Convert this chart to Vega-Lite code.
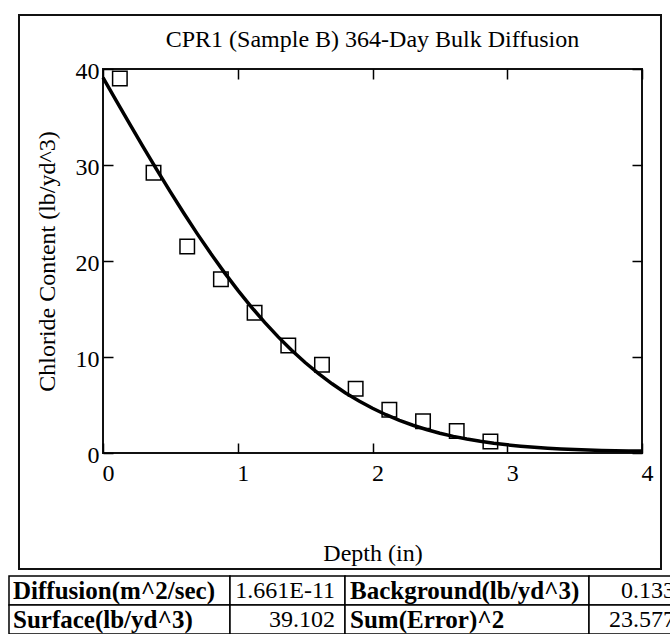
{
  "$schema": "https://vega.github.io/schema/vega-lite/v6.json",
  "background": "white",
  "padding": {"left": 8, "top": 13, "right": 0, "bottom": 0},
  "config": {
    "font": "Liberation Serif",
    "view": {"stroke": "#111", "strokeWidth": 2},
    "title": {"font": "Liberation Serif", "fontSize": 24, "fontWeight": "normal", "color": "black"}
  },
  "datasets": {
    "measured": [
      {"depth": 0.125, "chloride": 39.0},
      {"depth": 0.375, "chloride": 29.2},
      {"depth": 0.625, "chloride": 21.5},
      {"depth": 0.875, "chloride": 18.1},
      {"depth": 1.125, "chloride": 14.6},
      {"depth": 1.375, "chloride": 11.2},
      {"depth": 1.625, "chloride": 9.2},
      {"depth": 1.875, "chloride": 6.7},
      {"depth": 2.125, "chloride": 4.5},
      {"depth": 2.375, "chloride": 3.3},
      {"depth": 2.625, "chloride": 2.3},
      {"depth": 2.875, "chloride": 1.2}
    ],
    "fit": [
      {"depth": 0.0, "chloride": 39.102}, {"depth": 0.1, "chloride": 36.661}, {"depth": 0.2, "chloride": 34.235},
      {"depth": 0.3, "chloride": 31.839}, {"depth": 0.4, "chloride": 29.487}, {"depth": 0.5, "chloride": 27.193},
      {"depth": 0.6, "chloride": 24.968}, {"depth": 0.7, "chloride": 22.824}, {"depth": 0.8, "chloride": 20.770},
      {"depth": 0.9, "chloride": 18.816}, {"depth": 1.0, "chloride": 16.967}, {"depth": 1.1, "chloride": 15.228},
      {"depth": 1.2, "chloride": 13.604}, {"depth": 1.3, "chloride": 12.096}, {"depth": 1.4, "chloride": 10.705},
      {"depth": 1.5, "chloride": 9.428}, {"depth": 1.6, "chloride": 8.264}, {"depth": 1.7, "chloride": 7.209},
      {"depth": 1.8, "chloride": 6.260}, {"depth": 1.9, "chloride": 5.411}, {"depth": 2.0, "chloride": 4.655},
      {"depth": 2.1, "chloride": 3.987}, {"depth": 2.2, "chloride": 3.401}, {"depth": 2.3, "chloride": 2.889},
      {"depth": 2.4, "chloride": 2.444}, {"depth": 2.5, "chloride": 2.061}, {"depth": 2.6, "chloride": 1.732},
      {"depth": 2.7, "chloride": 1.453}, {"depth": 2.8, "chloride": 1.216}, {"depth": 2.9, "chloride": 1.017},
      {"depth": 3.0, "chloride": 0.850}, {"depth": 3.1, "chloride": 0.712}, {"depth": 3.2, "chloride": 0.598},
      {"depth": 3.3, "chloride": 0.504}, {"depth": 3.4, "chloride": 0.427}, {"depth": 3.5, "chloride": 0.365},
      {"depth": 3.6, "chloride": 0.315}, {"depth": 3.7, "chloride": 0.272}, {"depth": 3.8, "chloride": 0.243},
      {"depth": 3.9, "chloride": 0.218}, {"depth": 4.0, "chloride": 0.198}
    ],
    "table": [
      {"row": 1, "col": 1, "text": "Diffusion(m^2/sec)"},
      {"row": 2, "col": 1, "text": "Surface(lb/yd^3)"},
      {"row": 1, "col": 2, "text": "1.661E-11"},
      {"row": 2, "col": 2, "text": "39.102"},
      {"row": 1, "col": 3, "text": "Background(lb/yd^3)"},
      {"row": 2, "col": 3, "text": "Sum(Error)^2"},
      {"row": 1, "col": 4, "text": "0.133"},
      {"row": 2, "col": 4, "text": "23.577"}
    ]
  },
  "vconcat": [
    {
      "width": 539,
      "height": 384,
      "title": {"text": "CPR1 (Sample B) 364-Day Bulk Diffusion", "anchor": "middle", "frame": "group", "offset": -38},
      "resolve": {"axis": {"x": "independent", "y": "independent"}},
      "layer": [
        {
          "data": {"name": "fit"},
          "mark": {"type": "line", "color": "black", "strokeWidth": 3.5},
          "encoding": {
            "x": {"field": "depth", "type": "quantitative", "scale": {"domain": [0, 4], "nice": false},
              "axis": {"orient": "bottom", "title": "Depth (in)", "values": [0, 1, 2, 3, 4], "domain": false, "ticks": false,
                "grid": true, "gridColor": "black", "gridOpacity": 1, "gridWidth": 1.5, "gridDash": [10, 364, 10, 1000],
                "labelPadding": 8, "labelOffset": 5,
                "labelFlush": false, "labelFont": "Liberation Serif", "labelFontSize": 24, "labelColor": "black",
                "titleFont": "Liberation Serif", "titleFontSize": 24, "titleFontWeight": "normal", "titleColor": "black", "titlePadding": 56}},
            "y": {"field": "chloride", "type": "quantitative", "scale": {"domain": [0, 40], "nice": false},
              "axis": {"orient": "left", "title": "Chloride Content (lb/yd^3)", "values": [0, 10, 20, 30, 40], "domain": false, "ticks": false,
                "grid": true, "gridColor": "black", "gridOpacity": 1, "gridWidth": 1.5, "gridDash": [10, 519, 10, 1000],
                "labelPadding": 4, "labelOffset": 2,
                "labelFlush": false, "labelFont": "Liberation Serif", "labelFontSize": 24, "labelColor": "black",
                "titleFont": "Liberation Serif", "titleFontSize": 24, "titleFontWeight": "normal", "titleColor": "black", "titlePadding": 16}}
          }
        },
        {
          "data": {"name": "measured"},
          "mark": {"type": "point", "shape": "square", "filled": false, "stroke": "black", "strokeWidth": 1.5, "size": 210, "opacity": 1},
          "encoding": {
            "x": {"field": "depth", "type": "quantitative", "axis": null},
            "y": {"field": "chloride", "type": "quantitative", "axis": null}
          }
        },
        {
          "data": {"values": [{}]},
          "mark": {"type": "rect", "fill": null, "stroke": "#111", "strokeWidth": 2, "clip": false},
          "encoding": {
            "x": {"datum": -0.6234, "type": "quantitative", "axis": null},
            "x2": {"datum": 4.141},
            "y": {"datum": 45.625, "type": "quantitative", "axis": null},
            "y2": {"datum": -12.083}
          }
        }
      ]
    },
    {
      "data": {"name": "table"},
      "spacing": 0,
      "bounds": "flush",
      "hconcat": [
        {
          "width": 127, "height": 58, "view": {"stroke": null},
          "transform": [{"filter": "datum.col == 1"}],
          "layer": [
            {"mark": {"type": "rect", "fill": "white", "stroke": "black", "strokeWidth": 1.5, "clip": false},
             "encoding": {"x": {"datum": -0.7402, "type": "quantitative", "scale": {"domain": [0, 1]}, "axis": null}, "x2": {"datum": 1},
               "y": {"field": "row", "type": "ordinal", "axis": null, "scale": {"paddingInner": 0, "paddingOuter": 0}}}},
            {"mark": {"type": "text", "align": "left", "baseline": "middle", "dx": 4, "fontSize": 25, "fontWeight": "bold", "color": "black", "clip": false},
             "encoding": {"x": {"datum": -0.7402, "type": "quantitative", "axis": null}, "y": {"field": "row", "type": "ordinal", "axis": null}, "text": {"field": "text"}}}
          ]
        },
        {
          "width": 115, "height": 58, "view": {"stroke": null},
          "transform": [{"filter": "datum.col == 2"}],
          "layer": [
            {"mark": {"type": "rect", "fill": "white", "stroke": "black", "strokeWidth": 1.5},
             "encoding": {"x": {"datum": 0, "type": "quantitative", "scale": {"domain": [0, 1]}, "axis": null}, "x2": {"datum": 1},
               "y": {"field": "row", "type": "ordinal", "axis": null, "scale": {"paddingInner": 0, "paddingOuter": 0}}}},
            {"mark": {"type": "text", "align": "right", "baseline": "middle", "dx": -10, "fontSize": 24, "color": "black"},
             "encoding": {"x": {"datum": 1, "type": "quantitative", "axis": null}, "y": {"field": "row", "type": "ordinal", "axis": null}, "text": {"field": "text"}}}
          ]
        },
        {
          "width": 244, "height": 58, "view": {"stroke": null},
          "transform": [{"filter": "datum.col == 3"}],
          "layer": [
            {"mark": {"type": "rect", "fill": "white", "stroke": "black", "strokeWidth": 1.5},
             "encoding": {"x": {"datum": 0, "type": "quantitative", "scale": {"domain": [0, 1]}, "axis": null}, "x2": {"datum": 1},
               "y": {"field": "row", "type": "ordinal", "axis": null, "scale": {"paddingInner": 0, "paddingOuter": 0}}}},
            {"mark": {"type": "text", "align": "left", "baseline": "middle", "dx": 5, "fontSize": 25, "fontWeight": "bold", "color": "black"},
             "encoding": {"x": {"datum": 0, "type": "quantitative", "axis": null}, "y": {"field": "row", "type": "ordinal", "axis": null}, "text": {"field": "text"}}}
          ]
        },
        {
          "width": 82, "height": 58, "view": {"stroke": null},
          "transform": [{"filter": "datum.col == 4"}],
          "layer": [
            {"mark": {"type": "rect", "fill": "white", "stroke": "black", "strokeWidth": 1.5},
             "encoding": {"x": {"datum": 0, "type": "quantitative", "scale": {"domain": [0, 1]}, "axis": null}, "x2": {"datum": 1},
               "y": {"field": "row", "type": "ordinal", "axis": null, "scale": {"paddingInner": 0, "paddingOuter": 0}}}},
            {"mark": {"type": "text", "align": "right", "baseline": "middle", "dx": 4, "fontSize": 24, "color": "black", "clip": true},
             "encoding": {"x": {"datum": 1, "type": "quantitative", "axis": null}, "y": {"field": "row", "type": "ordinal", "axis": null}, "text": {"field": "text"}}}
          ]
        }
      ]
    }
  ],
  "spacing": 4
}
